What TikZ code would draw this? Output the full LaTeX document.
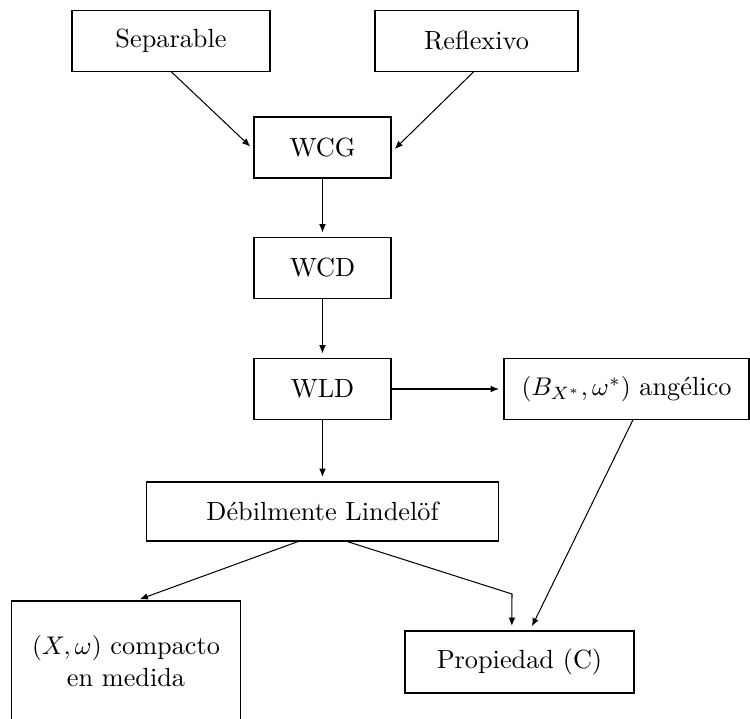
\documentclass[tikz,border=0pt]{standalone}
\usetikzlibrary{arrows.meta}
\begin{document}
\begin{tikzpicture}[x=0.392pt,y=-0.392pt,
  box/.style={draw,line width=0.45pt,inner sep=0pt,outer sep=0pt,align=center,font=\fontsize{10.3}{12.6}\selectfont},
  arr/.style={-{Latex[length=3.2pt,width=2.6pt]},line width=0.4pt,shorten >=2pt}]
\useasboundingbox (0,0) rectangle (750,719);
\begin{scope}
\clip (0,0) rectangle (750,719);
\node[box,minimum width=198*0.392pt,minimum height=61*0.392pt] (sep) at (171,41) {Separable};
\node[box,minimum width=203*0.392pt,minimum height=61*0.392pt] (ref) at (476.5,41) {Reflexivo};
\node[box,minimum width=137*0.392pt,minimum height=61*0.392pt] (wcg) at (322.5,147.5) {WCG};
\node[box,minimum width=137*0.392pt,minimum height=61*0.392pt] (wcd) at (322.5,268) {WCD};
\node[box,minimum width=137*0.392pt,minimum height=61*0.392pt] (wld) at (322.5,389) {WLD};
\node[box,minimum width=245*0.392pt,minimum height=61*0.392pt] (ang) at (626.5,389) {$(B_{X^*},\omega^*)$ angélico};
\node[box,minimum width=352*0.392pt,minimum height=59*0.392pt] (deb) at (322.5,511.5) {Débilmente Lindelöf};
\node[box,minimum width=229*0.392pt,minimum height=120*0.392pt] (com) at (126,661) {$(X,\omega)$ compacto\\en medida};
\node[box,minimum width=229*0.392pt,minimum height=62*0.392pt] (prop) at (519.5,662) {Propiedad (C)};
\coordinate (k) at (512,594);
\draw[arr] (sep.south) -- ([yshift=-1pt]wcg.west);
\draw[arr] ([xshift=-1pt]ref.south) -- ([yshift=-2pt]wcg.east);
\draw[arr] (wcg.south) -- (wcd.north);
\draw[arr] (wcd.south) -- (wld.north);
\draw[arr] (wld.east) -- (ang.west);
\draw[arr] (wld.south) -- (deb.north);
\draw[arr] ([xshift=-9pt]deb.south) -- ([xshift=3.5pt]com.north);
\draw[arr] ([xshift=9pt]deb.south) -- (k) -- ([xshift=-3pt]prop.north);
\draw[arr] ([xshift=2.6pt]ang.south) -- ([xshift=4pt]prop.north);
\end{scope}
\end{tikzpicture}
\end{document}
